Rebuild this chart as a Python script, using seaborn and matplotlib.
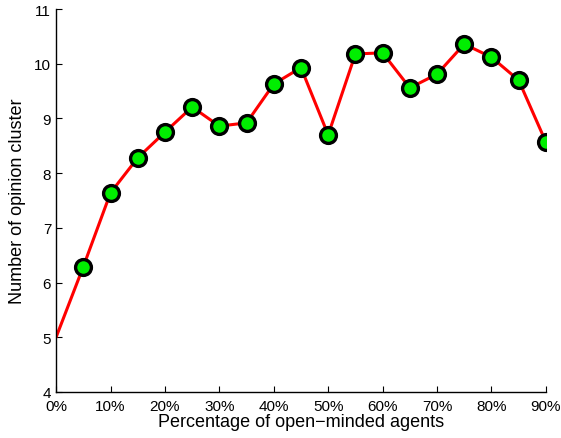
import matplotlib
matplotlib.use("Agg")
import matplotlib.pyplot as plt
import seaborn as sns
import pandas as pd
from matplotlib.ticker import FuncFormatter

pct = [0, 5, 10, 15, 20, 25, 30, 35, 40, 45, 50, 55, 60, 65, 70, 75, 80, 85, 90]
clusters = [5.0, 6.29, 7.64, 8.28, 8.75, 9.21, 8.86, 8.92, 9.63, 9.93, 8.70,
            10.18, 10.20, 9.56, 9.81, 10.36, 10.12, 9.70, 8.57]

df = pd.DataFrame({"pct": pct, "clusters": clusters})

sns.set_style("ticks")
plt.rcParams["font.family"] = ["Liberation Sans", "DejaVu Sans"]
plt.rcParams["axes.labelcolor"] = "black"

fig = plt.figure(figsize=(5.61, 4.39), dpi=100)
ax = fig.add_axes([0.1, 0.105, 0.873, 0.872])

sns.lineplot(data=df, x="pct", y="clusters", ax=ax, color="red", lw=2.2,
             zorder=2)
ax.scatter(df["pct"][1:], df["clusters"][1:], s=130, c="#00ee00",
           edgecolors="black", linewidths=2.4, zorder=3)

ax.set_xlim(0, 90)
ax.set_ylim(4, 11)
ax.set_xticks(range(0, 91, 10))
ax.xaxis.set_major_formatter(FuncFormatter(lambda v, p: f"{int(v)}%"))
ax.set_yticks(range(4, 12))
ax.tick_params(direction="in", length=4, width=0.8, labelsize=11, colors="black")
ax.tick_params(axis="x", pad=5)
for s in ["top", "right"]:
    ax.spines[s].set_visible(False)
for s in ["left", "bottom"]:
    ax.spines[s].set_linewidth(1.0)
    ax.spines[s].set_color("black")

ax.set_xlabel("Percentage of open\u2212minded agents", fontsize=13, labelpad=0)
ax.set_ylabel("Number of opinion cluster", fontsize=13, labelpad=6)

fig.savefig("out.png", dpi=100)
